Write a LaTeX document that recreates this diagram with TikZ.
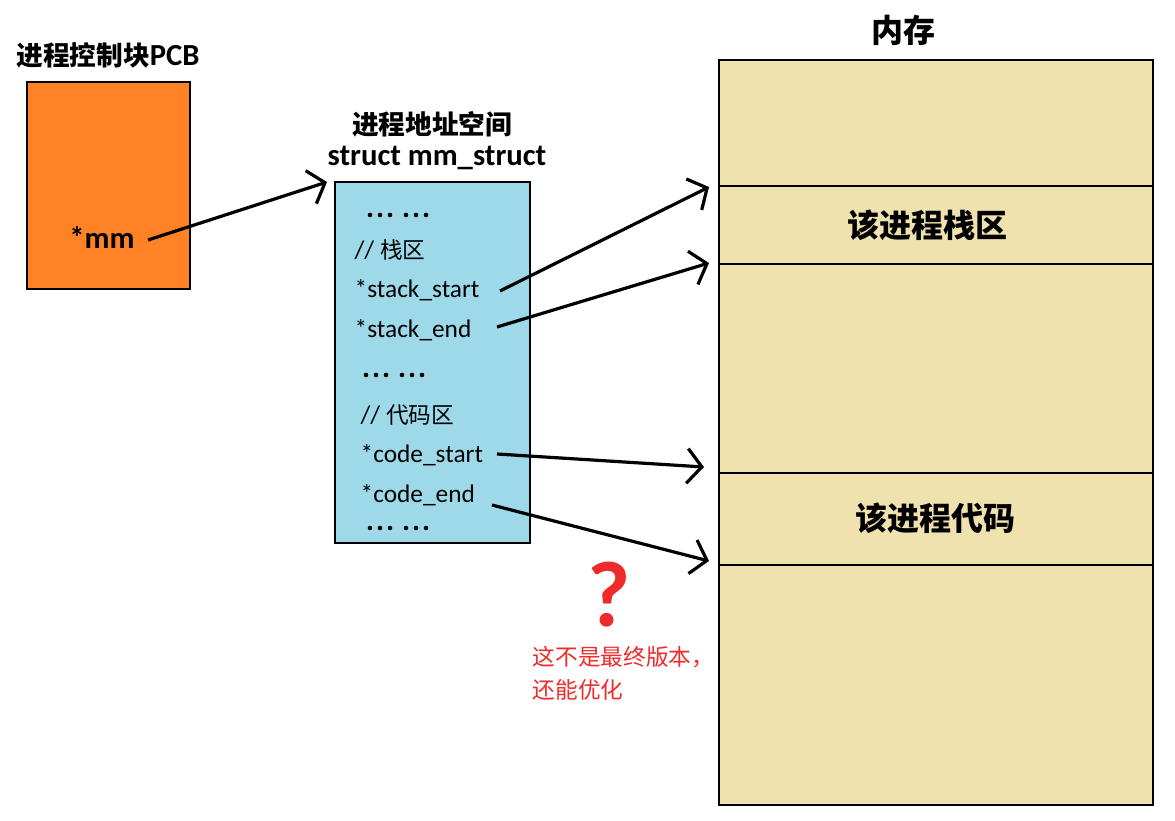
\documentclass[tikz,border=0pt]{standalone}
\usepackage{fontspec}
\setmainfont{Carlito}
\newfontfamily\cjk{Noto Sans CJK SC}
\usetikzlibrary{arrows.meta}
\definecolor{pcb}{HTML}{FF8224}
\definecolor{mms}{HTML}{9ED9EA}
\definecolor{mem}{HTML}{EFE2AE}
\definecolor{qred}{HTML}{EE2A2A}
\tikzset{
 box/.style={draw,line width=2.2pt},
 arr/.style={line width=2.4pt,-{Straight Barb[length=11pt,width=26pt,line width=2.4pt]}},
 ttl/.style={font=\fontsize{20}{22}\selectfont\bfseries},
 itm/.style={font=\fontsize{19}{21}\selectfont,anchor=west},
 big/.style={font=\cjk\fontsize{24}{26}\selectfont\bfseries}
}
\begin{document}
\begin{tikzpicture}[x=0.75pt,y=-0.75pt]
\useasboundingbox (0,0) rectangle (1175,821);
\fill[white] (0,0) rectangle (1175,821);
% PCB
\node[ttl] (tpcb) at (108,55) {{\cjk 进程控制块}{\fontsize{23}{24}\selectfont PCB}};
\draw[box,fill=pcb] (27,82) rectangle (190,289);
\node[font=\fontsize{23}{24}\selectfont\bfseries] (mm) at (102,238) {*mm};
% mm_struct
\node[ttl] (t1) at (432,124) {\cjk 进程地址空间};
\node[font=\fontsize{23}{24}\selectfont\bfseries] (t2) at (437,158) {struct mm\_struct};
\draw[box,fill=mms] (335,182) rectangle (530,543);
\coordinate (mmin) at (327,182);
\foreach \x/\y in {370/215,406/215,366/375,402/375,370/528,406/528}
  \foreach \k in {0,10,20} \fill (\x+\k,\y) circle (2.3);
\node[itm] (c1) at (350,250) {// {\cjk\fontsize{17}{19}\selectfont 栈区}};
\node[itm] (ss) at (350,290) {*stack\_start};
\node[itm] (se) at (350,330) {*stack\_end};
\node[itm] (c2) at (356,415) {// {\cjk\fontsize{17}{19}\selectfont 代码区}};
\node[itm] (cs) at (356,455) {*code\_start};
\node[itm] (ce) at (356,495) {*code\_end};
% memory
\node[big] (tmem) at (903,30) {内存};
\draw[box,fill=mem] (719,60) rectangle (1153,805);
\foreach \y in {186,264,473,565} \draw[line width=2.2pt] (719,\y) -- (1153,\y);
\node[big] (stk) at (927,225) {该进程栈区};
\node[big] (code) at (935,518) {该进程代码};
\coordinate (a1) at (709,187);
\coordinate (a2) at (709,263);
\coordinate (a3) at (704,467);
\coordinate (a4) at (709,561);
% arrows
\draw[arr] (148,240) -- (mmin);
\draw[arr] (500,291) -- (a1);
\draw[arr] (497,327) -- (a2);
\draw[arr] (497,454) -- (a3);
\draw[arr] (492,505) -- (a4);
% note
\node[text=qred,font=\bfseries\fontsize{70}{70}\selectfont] (q) at (609,595) {?};
\node[text=qred,font=\cjk\fontsize{17}{19}\selectfont,anchor=west] (n1) at (528,657) {这不是最终版本，};
\node[text=qred,font=\cjk\fontsize{17}{19}\selectfont,anchor=west] (n2) at (528,690) {还能优化};
\end{tikzpicture}
\end{document}
